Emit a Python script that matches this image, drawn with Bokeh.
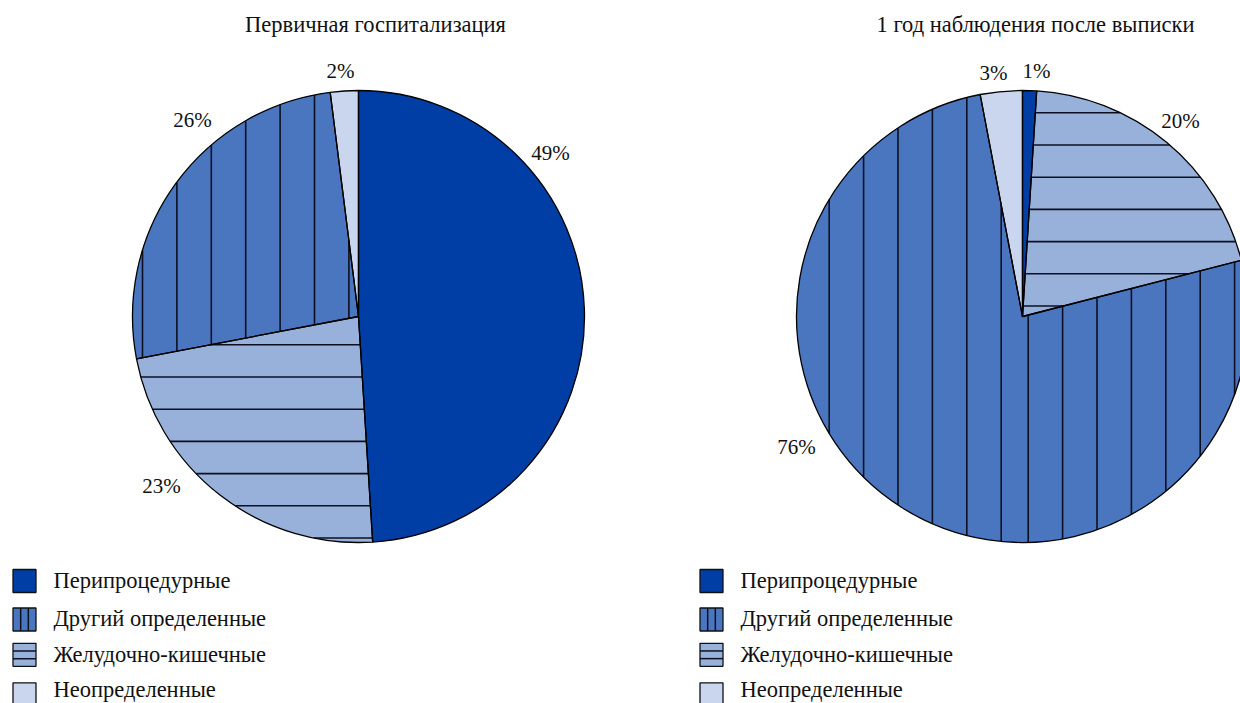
import math
from bokeh.plotting import figure
from bokeh.models import Range1d, ColumnDataSource
from bokeh.core.properties import value
from bokeh.embed import file_html
from bokeh.resources import INLINE

# Categories (legend order) and their styles
categories = ["Перипроцедурные", "Другий определенные", "Желудочно-кишечные", "Неопределенные"]
colors = ["#003DA5", "#4A76C0", "#98B1DA", "#C9D6EE"]
hatches = [None, "v", "h", None]

# Slice order clockwise from 12 o'clock, per chart
left_title = "Первичная госпитализация"
left_order = ["Перипроцедурные", "Желудочно-кишечные", "Другий определенные", "Неопределенные"]
left_values = [49, 23, 26, 2]

right_title = "1 год наблюдения после выписки"
right_order = ["Перипроцедурные", "Желудочно-кишечные", "Другий определенные", "Неопределенные"]
right_values = [1, 20, 76, 3]

W, H = 1240, 703
FONT = value("Liberation Serif")
INK = "#111111"
HATCH = "#0d1020"
V_STEP, H_STEP = 34.4, 32.2

p = figure(width=W, height=H, output_backend="svg", toolbar_location=None,
           x_range=Range1d(0, W), y_range=Range1d(0, H), min_border=0)
p.axis.visible = False
p.grid.visible = False
p.outline_line_color = None
p.background_fill_color = "white"
p.border_fill_color = "white"


def Y(py):
    return H - py


def in_sector(px, py, cx, cy, r, t0, t1):
    dx, dy = px - cx, py - cy
    if dx * dx + dy * dy > r * r:
        return False
    t = math.atan2(dx, -dy) % (2 * math.pi)
    return t0 <= t <= t1


def hatch_segments(cx, cy, r, t0, t1, kind, phases):
    """Clip hatch lines (vertical or horizontal) to a pie sector.
    phases: list of (first_position, x_min, x_max) pattern regions."""
    xs, ys = [], []
    n = 900
    step = V_STEP if kind == "v" else H_STEP
    for start, lo, hi in phases:
        pos = start
        while pos > (cx if kind == "v" else cy) - r:
            pos -= step
        while pos <= (cx if kind == "v" else cy) + r:
            run = []
            for k in range(n + 1):
                u = -r + 2 * r * k / n
                if kind == "v":
                    px, py = pos, cy + u
                else:
                    px, py = cx + u, pos
                ok = in_sector(px, py, cx, cy, r, t0, t1) and lo <= px <= hi
                if ok:
                    run.append((px, py))
                elif run:
                    if len(run) > 1:
                        xs.append([run[0][0], run[-1][0]])
                        ys.append([Y(run[0][1]), Y(run[-1][1])])
                    run = []
            if len(run) > 1:
                xs.append([run[0][0], run[-1][0]])
                ys.append([Y(run[0][1]), Y(run[-1][1])])
            pos += step
    return xs, ys


def draw_pie(cx, cy, r, order, values, title, title_x, label_pos, legend_x,
             v_phases, h_phases):
    total = float(sum(values))
    starts, ends, fills = [], [], []
    a = 0.0
    hx, hy = [], []
    for cat, v in zip(order, values):
        span = 2 * math.pi * v / total
        i = categories.index(cat)
        # bokeh angles: counter-clockwise from +x axis
        starts.append(math.pi / 2 - (a + span))
        ends.append(math.pi / 2 - a)
        fills.append(colors[i])
        if hatches[i] == "v":
            sx, sy = hatch_segments(cx, cy, r, a, a + span, "v", v_phases)
            hx += sx; hy += sy
        elif hatches[i] == "h":
            sx, sy = hatch_segments(cx, cy, r, a, a + span, "h", h_phases)
            hx += sx; hy += sy
        a += span
    src = ColumnDataSource(dict(x=[cx] * len(values), y=[Y(cy)] * len(values),
                                start=starts, end=ends, fill=fills))
    p.wedge(x="x", y="y", radius=r, start_angle="start", end_angle="end",
            source=src, fill_color="fill", line_color=None)
    p.multi_line(xs=hx, ys=hy, line_color=HATCH, line_width=1.6)
    p.wedge(x="x", y="y", radius=r, start_angle="start", end_angle="end",
            source=src, fill_color=None, line_color="#000000", line_width=1.3)

    p.text(x=[title_x], y=[Y(24)], text=[title], text_font=FONT,
           text_font_size="22.5px", text_align="center", text_baseline="middle",
           text_color=INK)

    labels = [f"{v}%" for v in values]
    p.text(x=[lx for lx, ly in label_pos], y=[Y(ly) for lx, ly in label_pos],
           text=labels, text_font=FONT, text_font_size="21px",
           text_align="center", text_baseline="middle", text_color=INK)

    # legend: swatches and their captions
    box_ys = [580.5, 619, 654.3, 693.8]
    txt_ys = [580, 618, 653.5, 688.5]
    s = 23
    p.rect(x=[legend_x] * 4, y=[Y(v) for v in box_ys], width=s, height=s,
           fill_color=colors, line_color=INK, line_width=1.3)
    lx, ly = [], []
    for i, yy in enumerate(box_ys):
        for f in (1 / 3, 2 / 3):
            if hatches[i] == "v":
                xx = legend_x - s / 2 + s * f
                lx.append([xx, xx]); ly.append([Y(yy - s / 2), Y(yy + s / 2)])
            elif hatches[i] == "h":
                yv = yy - s / 2 + s * f
                lx.append([legend_x - s / 2, legend_x + s / 2]); ly.append([Y(yv), Y(yv)])
    p.multi_line(xs=lx, ys=ly, line_color=HATCH, line_width=1.5)
    p.text(x=[legend_x + 29] * 4, y=[Y(v) for v in txt_ys], text=categories,
           text_font=FONT, text_font_size="22.5px", text_align="left",
           text_baseline="middle", text_color=INK)


draw_pie(358, 316, 226, left_order, left_values, left_title, 375,
         [(550, 152), (161, 485), (192, 119), (340, 70)], 24,
         v_phases=[(142.0, 0, W)], h_phases=[(344.3, 0, W)])
draw_pie(1022, 316, 226, right_order, right_values, right_title, 1035,
         [(1036, 70), (1180, 120), (796, 446), (993, 72)], 711,
         v_phases=[(1000.7, 0, 1022), (1027.7, 1022, W)], h_phases=[(112.3, 0, W)])

open("out.html", "w").write(file_html(p, INLINE))
